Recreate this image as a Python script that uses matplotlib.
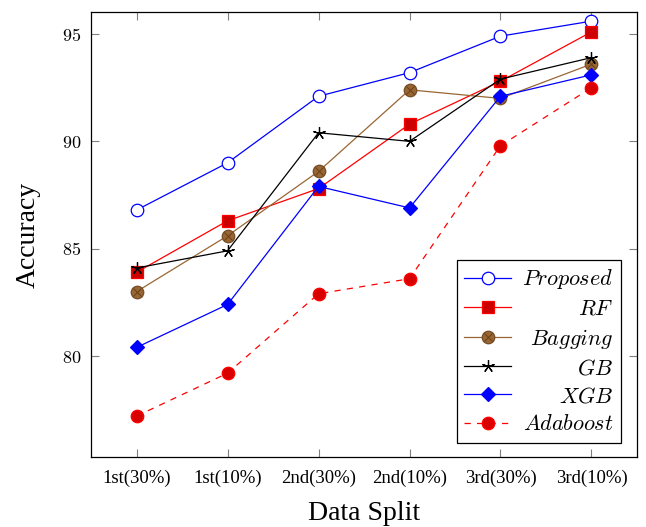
import matplotlib
matplotlib.use("Agg")
import matplotlib.pyplot as plt
from matplotlib.legend_handler import HandlerTuple

categories = ["1st(30%)", "1st(10%)", "2nd(30%)", "2nd(10%)", "3rd(30%)", "3rd(10%)"]
proposed = [86.8, 89.0, 92.1, 93.2, 94.9, 95.6]
rf = [83.9, 86.3, 87.8, 90.8, 92.8, 95.1]
bagging = [83.0, 85.6, 88.6, 92.4, 92.0, 93.6]
gb = [84.1, 84.9, 90.4, 90.0, 92.9, 93.9]
xgb = [80.4, 82.4, 87.9, 86.9, 92.1, 93.1]
adaboost = [77.2, 79.2, 82.9, 83.6, 89.8, 92.5]
yticks = [80, 85, 90, 95]

plt.rcParams['mathtext.fontset'] = 'cm'
plt.rcParams['font.family'] = ['Liberation Serif', 'DejaVu Serif']

fig = plt.figure(figsize=(6.46, 5.27), dpi=100)
ax = fig.add_axes([0.141, 0.133, 0.845, 0.844])
x = list(range(len(categories)))

brown = (0.6, 0.4, 0.2)
h1, = ax.plot(x, proposed, color='blue', lw=0.9, marker='o', ms=9, mfc='white', mec='blue', mew=0.9)
h2, = ax.plot(x, rf, color='red', lw=0.9, marker='s', ms=9, mfc=(0.8, 0, 0), mec='red', mew=0.9)
h3a, = ax.plot(x, bagging, color=brown, lw=0.9, marker='o', ms=9, mfc=brown, mec=(0.45, 0.3, 0.15), mew=0.9)
h3b, = ax.plot(x, bagging, ls='none', marker='x', ms=6, mec=(0.4, 0.25, 0.1), mew=0.7)
h4, = ax.plot(x, gb, color='black', lw=0.9, marker=(5, 2, 0), ms=9, mec='black', mew=0.9)
h5, = ax.plot(x, xgb, color='blue', lw=0.9, marker='D', ms=7, mfc='blue', mec='blue', mew=0.9)
h6, = ax.plot(x, adaboost, color='red', lw=0.9, ls=(0, (5, 5)), marker='o', ms=9, mfc=(0.85, 0, 0), mec='red', mew=0.9)

ax.set_xlim(-0.5, 5.5)
ax.set_ylim(75.3, 96.02)
ax.set_xticks(x)
ax.set_xticklabels(categories, fontsize=13.5)
ax.set_yticks(yticks)
ax.set_yticklabels([f"${v}$" for v in yticks], fontsize=13)
ax.tick_params(axis='both', direction='in', length=6, color='gray', top=True, right=True, width=0.8)
ax.tick_params(axis='x', pad=9)
ax.tick_params(axis='y', pad=7)
for s in ax.spines.values():
    s.set_linewidth(0.9)
ax.set_xlabel("Data Split", fontsize=20, labelpad=10)
ax.set_ylabel("Accuracy", fontsize=20, labelpad=15)

leg = ax.legend([h1, h2, (h3a, h3b), h4, h5, h6],
                [r"$Proposed$", r"$RF$", r"$Bagging$", r"$GB$", r"$XGB$", r"$Adaboost$"],
                handler_map={tuple: HandlerTuple(ndivide=1)},
                loc='lower right', bbox_to_anchor=(0.971, 0.031), fontsize=16,
                fancybox=False, edgecolor='black', framealpha=1, handlelength=2.1,
                handletextpad=0.5, labelspacing=0.34, borderpad=0.35, borderaxespad=0)
leg.get_frame().set_linewidth(0.9)
fig.canvas.draw()
renderer = fig.canvas.get_renderer()
widths = [t.get_window_extent(renderer).width for t in leg.get_texts()]
shift = max(widths)
for t, w in zip(leg.get_texts(), widths):
    t.set_position((shift - w, 0))

fig.savefig("out.png", dpi=100)
